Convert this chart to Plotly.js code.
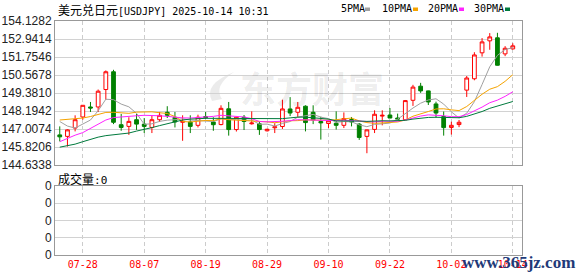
<!DOCTYPE html>
<html>
<head>
<meta charset="utf-8">
<script src="https://cdn.plot.ly/plotly-3.0.1.min.js"></script>
<style>html,body{margin:0;padding:0;background:#fff;}#chart{width:578px;height:276px;}</style>
</head>
<body>
<div id="chart"></div>
<script>
// ---- data ----
const dates = ['07-23','07-24','07-25','07-28','07-29','07-30','07-31','08-01','08-04','08-05',
  '08-06','08-07','08-08','08-11','08-12','08-13','08-14','08-15','08-18','08-19',
  '08-20','08-21','08-22','08-25','08-26','08-27','08-28','08-29','09-01','09-02',
  '09-03','09-04','09-05','09-08','09-09','09-10','09-11','09-12','09-15','09-16',
  '09-17','09-18','09-19','09-22','09-23','09-24','09-25','09-26','09-29','09-30',
  '10-01','10-02','10-03','10-06','10-07','10-08','10-09','10-10','10-13','10-14'];
const openP = [146.62,146.52,147.07,147.80,148.46,148.46,149.61,150.78,147.29,147.18,
  147.62,147.33,147.11,147.62,148.11,147.78,147.45,147.47,147.25,147.83,
  147.47,147.30,148.34,146.97,147.78,147.35,147.35,146.89,147.09,147.17,
  148.33,148.11,148.51,148.11,147.50,147.37,147.39,147.25,147.63,147.33,
  146.52,146.98,147.86,147.93,147.73,147.62,148.90,149.83,149.52,148.66,
  147.83,147.11,147.30,149.57,150.32,152.03,152.82,153.02,151.96,152.29];
const highP = [147.18,146.99,147.91,148.58,148.79,149.61,150.87,150.91,148.00,147.78,
  148.00,147.73,147.91,148.13,148.51,148.13,147.91,147.91,147.95,148.13,
  147.78,148.57,148.79,147.83,147.93,148.17,147.47,147.02,147.39,148.94,
  149.11,148.79,148.57,148.57,147.82,147.62,148.17,148.10,147.80,147.40,
  146.97,148.24,148.24,148.39,148.02,148.92,149.92,150.05,149.54,148.81,
  148.16,147.49,147.60,150.50,152.07,153.00,153.33,153.35,152.47,152.66];
const lowP = [146.19,145.85,146.85,147.62,148.13,148.13,148.94,147.33,146.89,146.62,
  146.95,146.74,146.74,147.47,147.73,147.11,146.23,146.74,147.11,147.66,
  146.89,147.25,146.57,146.84,146.94,147.30,146.62,146.84,146.74,147.01,
  147.86,147.78,146.85,147.33,146.31,147.07,146.97,147.07,147.18,146.29,
  145.41,146.74,147.25,147.72,147.62,147.60,148.53,149.39,148.59,147.76,
  146.57,146.64,147.13,149.12,150.22,151.78,152.23,151.19,151.81,152.25];
const closeP = [146.49,146.95,147.62,148.57,148.39,149.50,150.78,147.45,147.11,147.51,
  147.33,147.18,147.62,147.91,147.91,147.47,147.51,147.18,147.78,147.76,
  147.29,148.37,146.97,147.78,147.50,147.40,146.97,146.99,147.15,148.33,
  148.06,148.44,147.43,147.61,147.41,147.55,147.25,147.70,147.47,146.45,
  146.95,147.98,147.91,147.73,147.66,148.88,149.77,149.52,148.79,148.06,
  147.10,147.25,147.45,150.37,151.89,152.75,153.08,151.21,152.33,152.49];
const ma5 = [147.50,147.20,147.07,147.33,147.60,148.21,148.97,148.94,148.65,148.47,
  148.04,147.32,147.35,147.51,147.59,147.62,147.68,147.60,147.57,147.54,
  147.50,147.68,147.63,147.63,147.58,147.60,147.32,147.33,147.20,147.37,
  147.50,147.79,147.88,147.97,147.79,147.69,147.45,147.50,147.48,147.28,
  147.16,147.31,147.35,147.40,147.65,148.03,148.39,148.71,148.92,149.00,
  148.65,148.14,147.73,148.05,148.81,149.94,151.11,151.86,152.25,152.37];
const ma10 = [147.60,147.63,147.70,147.73,147.83,147.96,148.10,148.11,148.06,148.04,
  148.12,148.14,148.14,148.08,148.03,147.83,147.50,147.47,147.54,147.57,
  147.56,147.68,147.62,147.60,147.56,147.55,147.50,147.48,147.42,147.48,
  147.55,147.56,147.61,147.59,147.58,147.59,147.62,147.69,147.73,147.54,
  147.43,147.38,147.43,147.44,147.47,147.60,147.85,148.03,148.16,148.33,
  148.34,148.27,148.22,148.49,148.91,149.30,149.63,149.80,150.15,150.59];
const ma20 = [146.17,146.40,146.60,146.77,147.03,147.30,147.60,147.76,147.81,147.84,
  147.88,147.91,147.91,147.88,147.84,147.78,147.74,147.73,147.76,147.80,
  147.84,147.91,147.88,147.84,147.80,147.69,147.50,147.48,147.48,147.52,
  147.56,147.62,147.61,147.60,147.57,147.57,147.56,147.59,147.57,147.51,
  147.49,147.47,147.52,147.51,147.52,147.60,147.74,147.86,147.94,147.93,
  147.88,147.82,147.82,147.96,148.19,148.45,148.74,148.91,149.16,149.46];
const ma30 = [145.81,145.91,146.01,146.17,146.34,146.47,146.57,146.62,146.67,146.74,
  146.87,146.97,147.10,147.23,147.37,147.50,147.60,147.66,147.70,147.71,
  147.71,147.71,147.70,147.70,147.70,147.69,147.68,147.68,147.68,147.69,
  147.74,147.79,147.79,147.76,147.72,147.66,147.54,147.55,147.56,147.53,
  147.51,147.54,147.55,147.54,147.54,147.58,147.66,147.74,147.77,147.78,
  147.77,147.74,147.75,147.84,147.98,148.16,148.37,148.51,148.68,148.82];
const volume = new Array(60).fill(0);
const yTickVals = [144.6338,145.8206,147.0074,148.1942,149.3810,150.5678,151.7546,152.9414,154.1282];
const yTickText = ['144.6338','145.8206','147.0074','148.1942','149.3810','150.5678','151.7546','152.9414','154.1282'];
const xTickLabels = ['07-28','08-07','08-19','08-29','09-10','09-22','10-02','10-14'];
const volTickVals = [0,1,2,3,4];
const volTickText = ['0','0','0','0','0'];
const maNames = ['5PMA','10PMA','20PMA','30PMA'];
const maColors = ['#a0a0a0','#f5a300','#ff22ff','#007a3d'];

// ---- layout helpers (pixel -> paper) ----
const L = 55, R = 56, T = 21, B = 21, W = 578, H = 276;
const PW = W - L - R, PH = H - T - B;
const px = x => (x - L) / PW;
const py = y => (H - B - y) / PH;

const traces = [];
[ma5, ma10, ma20, ma30].forEach((m, k) => {
  traces.push({type:'scatter', mode:'lines', x:dates, y:m, xaxis:'x', yaxis:'y',
    line:{color:maColors[k], width:1}, hoverinfo:'skip'});
});
traces.push({
  type:'candlestick', x:dates, open:openP, high:highP, low:lowP, close:closeP,
  xaxis:'x', yaxis:'y', whiskerwidth:0,
  increasing:{line:{color:'#ff0000', width:1}, fillcolor:'#ffffff'},
  decreasing:{line:{color:'#008000', width:1}, fillcolor:'#008000'},
  hoverinfo:'skip'
});
traces.push({type:'bar', x:dates, y:volume, xaxis:'x2', yaxis:'y2', marker:{color:'#008000'}, hoverinfo:'skip'});

const axisCommon = {showline:true, linecolor:'#999', linewidth:1, mirror:true, ticks:'', zeroline:false, fixedrange:true};
const mono = 'DejaVu Sans Mono, Liberation Mono, monospace';
const cjk = 'Noto Sans CJK SC, sans-serif';

const annotations = [
  {xref:'paper', yref:'paper', x:px(56), y:py(10), xanchor:'left', yanchor:'middle', showarrow:false,
   text:'<span style="font-family:Noto Sans CJK SC;font-size:12px">美元兑日元</span>[USDJPY] 2025-10-14 10:31',
   font:{family:mono, size:10, color:'#000'}},
  {xref:'paper', yref:'paper', x:px(56), y:py(178), xanchor:'left', yanchor:'middle', showarrow:false,
   text:'<span style="font-family:Noto Sans CJK SC;font-size:12px">成交量</span>:0',
   font:{family:mono, size:11, color:'#000'}},
  {xref:'paper', yref:'paper', x:px(312), y:py(87), xanchor:'center', yanchor:'middle', showarrow:false,
   text:'<b>东方财富</b>', font:{family:cjk, size:36, color:'rgba(0,0,0,0.085)'}},
  {xref:'paper', yref:'paper', x:px(577), y:py(262), xanchor:'right', yanchor:'middle', showarrow:false,
   text:'<b>www.365jz.com</b>', font:{family:'Liberation Serif, serif', size:17, color:'#1f3a78'}}
];
const legendX = [339, 380, 426, 472];
const markX = [365, 413, 459, 505];
const shapes = [];
maNames.forEach((n, k) => {
  annotations.push({xref:'paper', yref:'paper', x:px(legendX[k]), y:py(9), xanchor:'left', yanchor:'middle',
    showarrow:false, text:n, font:{family:mono, size:10, color:'#000'}});
  shapes.push({type:'rect', xref:'paper', yref:'paper', x0:px(markX[k]), x1:px(markX[k]+5), y0:py(11), y1:py(7.5),
    fillcolor:maColors[k], line:{width:0}});
});
// faint logo swoosh of the watermark
shapes.push({type:'path', xref:'paper', yref:'paper', layer:'below', fillcolor:'rgba(0,0,0,0.08)', line:{width:0},
  path:`M ${px(234)} ${py(72)} Q ${px(203)} ${py(84)} ${px(212)} ${py(101)} L ${px(222)} ${py(99)} Q ${px(213)} ${py(86)} ${px(234)} ${py(72)} Z`});

const layout = {
  width:W, height:H, margin:{l:L, r:R, t:T, b:B, pad:0},
  paper_bgcolor:'#ffffff', plot_bgcolor:'#ffffff', showlegend:false,
  font:{family:'Liberation Sans, Arial, sans-serif', size:12, color:'#222'},
  xaxis:Object.assign({}, axisCommon, {type:'category', anchor:'y', domain:[0,1], range:[-0.62, 60.2],
    tickvals:xTickLabels, showticklabels:false, showgrid:true, gridcolor:'#cccccc', griddash:'4px,3px', gridwidth:1,
    rangeslider:{visible:false}}),
  yaxis:Object.assign({}, axisCommon, {anchor:'x', domain:[py(165), 1], range:[yTickVals[0], yTickVals[8]],
    tickvals:yTickVals, ticktext:yTickText, showgrid:true, gridcolor:'#d2d2d2', gridwidth:1,
    tickfont:{family:'Liberation Sans, Arial, sans-serif', size:12, color:'#222'}}),
  xaxis2:Object.assign({}, axisCommon, {type:'category', anchor:'y2', domain:[0,1], range:[-0.62, 60.2],
    tickvals:xTickLabels, ticktext:xTickLabels, showgrid:true, gridcolor:'#cccccc', griddash:'4px,3px', gridwidth:1,
    tickfont:{family:mono, size:10, color:'#ff0000'}}),
  yaxis2:Object.assign({}, axisCommon, {anchor:'x2', domain:[0, py(186)], range:[0,4],
    tickvals:volTickVals, ticktext:volTickText, showgrid:true, gridcolor:'#d2d2d2', gridwidth:1,
    tickfont:{family:'Liberation Sans, Arial, sans-serif', size:12, color:'#222'}}),
  annotations:annotations, shapes:shapes
};
Plotly.newPlot('chart', traces, layout, {staticPlot:true, displayModeBar:false});
</script>
</body>
</html>
